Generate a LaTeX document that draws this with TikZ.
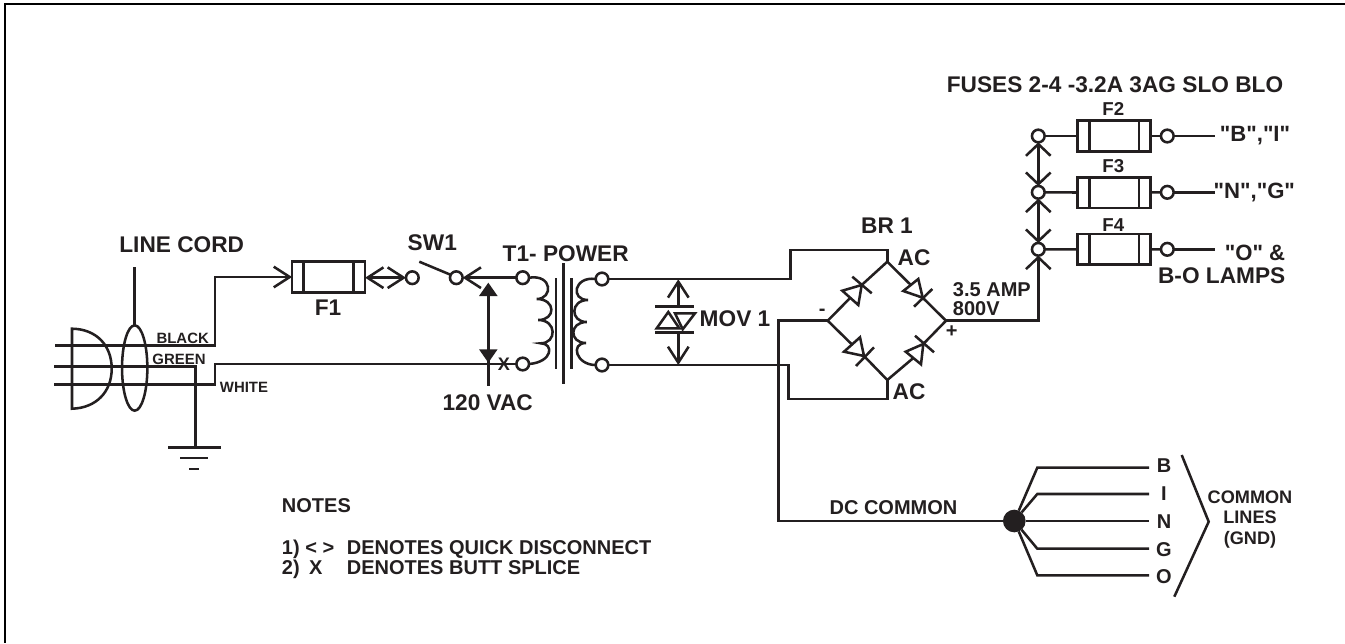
\documentclass[tikz,border=0pt]{standalone}
\usepackage{fontspec}
\setmainfont{Liberation Sans}[BoldFont=* Bold]
\newfontfamily\qfont{Liberation Sans}[BoldFont=* Bold]
\usetikzlibrary{arrows.meta,shapes.geometric}
\definecolor{ink}{HTML}{231F20}
\tikzset{
  wire/.style={line width=1.9pt,draw=ink},
  lab/.style={inner sep=0pt,text depth=0pt,text=ink,font=\bfseries\fontsize{15pt}{18pt}\selectfont},
  small/.style={lab,font=\bfseries\fontsize{11.2pt}{13pt}\selectfont},
  big/.style={lab,font=\bfseries\fontsize{17pt}{19pt}\selectfont},
  mid/.style={lab,font=\bfseries\fontsize{14pt}{17pt}\selectfont},
  cml/.style={lab,font=\bfseries\fontsize{13.6pt}{16pt}\selectfont},
  qlab/.style={lab,font=\qfont\bfseries\fontsize{16.6pt}{19pt}\selectfont},
  term/.style={circle,draw=ink,line width=1.9pt,fill=white,minimum size=9.5pt,inner sep=0pt,outer sep=0pt},
  fusebox/.style={rectangle,draw=ink,line width=1.9pt,minimum width=54.8pt,minimum height=23pt,inner sep=0pt,outer sep=0pt},
  qd/.tip={Straight Barb[length=12pt,width=15.5pt,line width=1.9pt]},
  qs/.tip={Straight Barb[length=8.8pt,width=18.5pt,line width=1.9pt]},
}
\newcommand{\fusebars}[1]{%
  \draw[wire] ([xshift=8.7pt]#1.north west) -- ([xshift=8.7pt]#1.south west);
  \draw[wire] ([xshift=-8.7pt]#1.north east) -- ([xshift=-8.7pt]#1.south east);}
\begin{document}
\begin{tikzpicture}[x=.75pt,y=-.75pt]
\useasboundingbox (0,0) rectangle (1345,643);
% frame
\coordinate (frTR) at (1345,4);
\coordinate (frTL) at (5,4);
\coordinate (frBL) at (5,643);
\draw[line width=1.5pt,black] (frTR) -- (frTL) -- (frBL);

% line cord
\node[ellipse,draw=ink,line width=1.9pt,minimum width=19pt,minimum height=64pt,inner sep=0pt,outer sep=0pt] (ring) at (134.7,368) {};
\coordinate (ringtop) at (134.7,266.7);
\draw[wire] (ring.north) -- (ringtop);
\draw[wire] (72,328.7) .. controls (96,329) and (111.7,345) .. (111.7,368.7) .. controls (111.7,392) and (96,408) .. (72,408.7) -- cycle;
\coordinate (blackL) at (55,345.3);
\coordinate (greenL) at (54,366.7);
\coordinate (whiteL) at (54,384.7);
\coordinate (gnd) at (195.7,447.7);
\node[big] (linecord) at (181.7,245) {LINE CORD};
\node[small] (lblack) at (182.7,338) {BLACK};
\node[small] (lgreen) at (179,359) {GREEN};
\node[small] (lwhite) at (244,387) {WHITE};
\draw[wire] (greenL) -| (gnd);
\coordinate (g1a) at (168,447.7); \coordinate (g1b) at (221,447.7);
\coordinate (g2a) at (180,458);   \coordinate (g2b) at (208,458);
\coordinate (g3a) at (189,469);   \coordinate (g3b) at (199,469);
\draw[wire] (g1a) -- (g1b);
\draw[wire] (g2a) -- (g2b);
\draw[wire] (g3a) -- (g3b);

% F1
\node[fusebox] (f1) at (328.6,277) {};
\fusebars{f1}
\node[big] (lf1) at (328,308) {F1};
\draw[wire,-{qd}] (blackL) -- (215,345.3) -- (215,277) -- (f1.west);
\node[term] (qd1) at (412.3,277.7) {};
\draw[wire,{qd}-{qd}] (f1.east |- qd1) -- (qd1.west);

% switch
\node[term] (sw) at (456.3,277.7) {};
\coordinate (blade) at (419.3,261.7);
\draw[wire] (sw.west) ++(0.5,-3) -- (blade);
\node[big] (lsw) at (432.3,242.7) {SW1};

% transformer
\node[term] (pa) at (522.7,277.7) {};
\node[term] (pb) at (522.7,364) {};
\node[term] (sa) at (602,279) {};
\node[term] (sb) at (602,365) {};
\draw[wire,-{qd}] (pa.west) -- (sw.east);
\draw[wire] (pa.east) .. controls (553,274) and (553,299) .. (536.7,299)
  .. controls (556,299) and (556,320) .. (538.3,320)
  .. controls (557,320) and (557,343.3) .. (540.7,343.3)
  .. controls (554,343.3) and (553,362) .. (pb.east);
\draw[wire] (sa.west) .. controls (574,276) and (570,300) .. (588,300)
  .. controls (570,300) and (570,322) .. (586.7,322)
  .. controls (569,322) and (569,343) .. (586,343)
  .. controls (570,343) and (576,365) .. (sb.west);
\coordinate (c1t) at (556,278);   \coordinate (c1b) at (556,369);
\coordinate (c2t) at (563.7,263); \coordinate (c2b) at (563.7,384);
\coordinate (c3t) at (571.3,278); \coordinate (c3b) at (571.3,369);
\draw[wire] (c1t) -- (c1b);
\draw[wire] (c2t) -- (c2b);
\draw[wire] (c3t) -- (c3b);
\node[big] (lt1) at (565.7,253.3) {T1- POWER};

% neutral with butt splice
\draw[wire] (whiteL) -- (215,384.7) -- (215,364) -- (pb.west);
\node[lab,font=\bfseries\fontsize{13.6pt}{16pt}\selectfont] (xs) at (504,364.7) {X};

% 120 VAC arrow
\coordinate (vacEnd) at (488.3,385.7);
\coordinate (vacTop) at (488.3,290);
\draw[wire] (vacTop) -- (vacEnd);
\fill[ink] (488.3,282.7) -- (497.6,296) -- (479,296) -- cycle;
\fill[ink] (488.3,362.7) -- (497.6,349.3) -- (479,349.3) -- cycle;
\node[big] (lvac) at (487.7,402.3) {120 VAC};

% MOV
\coordinate (mt) at (678.3,279.3);
\coordinate (mb) at (678.3,365);
\coordinate (mbt) at (678.3,306.7);
\coordinate (mbb) at (678.3,332.7);
\draw[wire,-{qd}] (mbt) -- (mt);
\draw[wire,-{qd}] (mbb) -- (mb);
\coordinate (b1a) at (655,306.7); \coordinate (b1b) at (694,306.7);
\coordinate (b2a) at (655,332.7); \coordinate (b2b) at (694,332.7);
\draw[wire] (b1a) -- (b1b);
\draw[wire] (b2a) -- (b2b);
\draw[wire,line join=miter] (668.3,312) -- (679.3,328.3) -- (656.7,328.3) -- cycle;
\draw[wire,line join=miter] (675,313.3) -- (695,313.3) -- (682.7,329.3) -- cycle;
\node[big] (lmov) at (735,319) {MOV 1};

% bridge
\coordinate (T) at (887.3,261.7);
\coordinate (L) at (827.7,320.7);
\coordinate (R) at (946,320.7);
\coordinate (B) at (887.3,380);
\draw[wire] (L) -- (850.3,297.8);
\draw[wire,line join=miter] (861.7,285) -- (842.3,290.7) -- (858.3,305) -- cycle;
\draw[wire] (852.3,276.7) -- (871.7,293.3);
\draw[wire] (861.7,285) -- (T);
\draw[wire] (T) -- (910.8,285);
\draw[wire,line join=miter] (922.7,297.7) -- (903.3,291) -- (918.3,279) -- cycle;
\draw[wire] (914,306.7) -- (932.3,289);
\draw[wire] (922.7,297.7) -- (R);
\draw[wire] (L) -- (852,344.5);
\draw[wire,line join=miter] (864,356) -- (844,351.7) -- (860,337.3) -- cycle;
\draw[wire] (856,366) -- (874,347.3);
\draw[wire] (864,356) -- (B);
\draw[wire] (B) -- (913.3,358);
\draw[wire,line join=miter] (923.3,344) -- (905.7,351.7) -- (921,364.3) -- cycle;
\draw[wire] (915,335.7) -- (934,352.3);
\draw[wire] (923.3,344) -- (R);
\draw[wire] (sa.east) -- (790.7,279) -- (790.7,250) -- (887.3,250) -- (T);
\draw[wire] (sb.east) -- (788.3,365) -- (788.3,399) -- (887.3,399) -- (B);
\node[big] (lbr) at (887,226) {BR 1};
\node[big] (lac1) at (914,258) {AC};
\node[big] (lac2) at (909,392) {AC};
\node[lab] (lminus) at (822.3,312) {-};
\node[lab] (lplus) at (951.7,331.7) {+};
\node[lab,anchor=west] (l35) at (952.7,289.3) {3.5 AMP};
\node[lab,anchor=west] (l800) at (952.7,309) {800V};

% fuses 2-4
\node[term] (c2) at (1038.3,136) {};
\node[term] (c3) at (1038.3,192.3) {};
\node[term] (c4) at (1038.3,249.3) {};
\node[fusebox] (f2) at (1114.2,136) {};
\node[fusebox] (f3) at (1114.2,192.7) {};
\node[fusebox] (f4) at (1114.2,249.4) {};
\fusebars{f2}\fusebars{f3}\fusebars{f4}
\node[term] (o2) at (1167.3,136) {};
\node[term] (o3) at (1167.3,192.3) {};
\node[term] (o4) at (1167.3,249.3) {};
\coordinate (e2) at (1215,136);
\coordinate (e3) at (1215,192.3);
\coordinate (e4) at (1215,249.3);
\draw[wire] (c2) -- (f2);
\draw[wire] (c3) -- (f3);
\draw[wire] (c4) -- (f4);
\draw[wire] (f2) -- (o2);
\draw[wire] (f3) -- (o3);
\draw[wire] (f4) -- (o4);
\draw[wire] (o2) -- (e2);
\draw[wire] (o3) -- (e3);
\draw[wire] (o4) -- (e4);
\draw[wire,-{qs}] (R) -- (1038.3,320.7) -- (c4.south);
\draw[wire,{qs}-{qs}] (c4.north) -- (c3.south);
\draw[wire,{qs}-{qs}] (c3.north) -- (c2.south);
\node[mid] (lf2) at (1113.3,109.3) {F2};
\node[mid] (lf3) at (1113.3,165.7) {F3};
\node[mid] (lf4) at (1113.3,225) {F4};
\node[big] (lfuses) at (1115,85) {FUSES 2-4 -3.2A 3AG SLO BLO};
\node[qlab] (lbi) at (1255,134) {"B","I"};
\node[qlab] (lng) at (1254.3,191) {"N","G"};
\node[qlab] (lo) at (1255,252.3) {"O" \&};
\node[big] (llamps) at (1221.7,275.7) {B-O LAMPS};

% DC common
\node[circle,fill=ink,minimum size=17pt,inner sep=0pt,outer sep=0pt] (star) at (1014.3,521) {};
\draw[wire] (L) -- (778.3,320.7) -- (778.3,521) -- (star);
\node[lab] (ldc) at (893.5,508) {DC COMMON};
\coordinate (lnB) at (1149,467.7);
\coordinate (lnI) at (1149,494);
\coordinate (lnN) at (1149,521);
\coordinate (lnG) at (1149,548.7);
\coordinate (lnO) at (1149,575.3);
\draw[wire] (star) -- (1037.3,467.7) -- (lnB);
\draw[wire] (star) -- (1037.3,494) -- (lnI);
\draw[wire] (star) -- (lnN);
\draw[wire] (star) -- (1037.3,548.7) -- (lnG);
\draw[wire] (star) -- (1037.3,575.3) -- (lnO);
\node[lab] (nB) at (1164,465.7) {B};
\node[lab] (nI) at (1164,494) {I};
\node[lab] (nN) at (1164,522) {N};
\node[lab] (nG) at (1164,550) {G};
\node[lab] (nO) at (1164,577) {O};
\coordinate (brk1) at (1181.7,455);
\coordinate (brk2) at (1208.7,521.7);
\coordinate (brk3) at (1174.3,596.7);
\draw[wire,line join=miter] (brk1) -- (brk2) -- (brk3);
\node[cml] (lcm1) at (1250,497) {COMMON};
\node[cml] (lcm2) at (1250,517) {LINES};
\node[cml] (lcm3) at (1250,538) {(GND)};

% notes
\node[lab,anchor=west] (lnotes) at (281.7,506) {NOTES};
\node[lab,anchor=west] (ln1) at (281.7,547.3) {\makebox[48.7pt][l]{1) < >}DENOTES QUICK DISCONNECT};
\node[lab,anchor=west] (ln2) at (281.7,567.3) {\makebox[48.7pt][l]{2)\hspace{7pt}X}DENOTES BUTT SPLICE};
\end{tikzpicture}
\end{document}
